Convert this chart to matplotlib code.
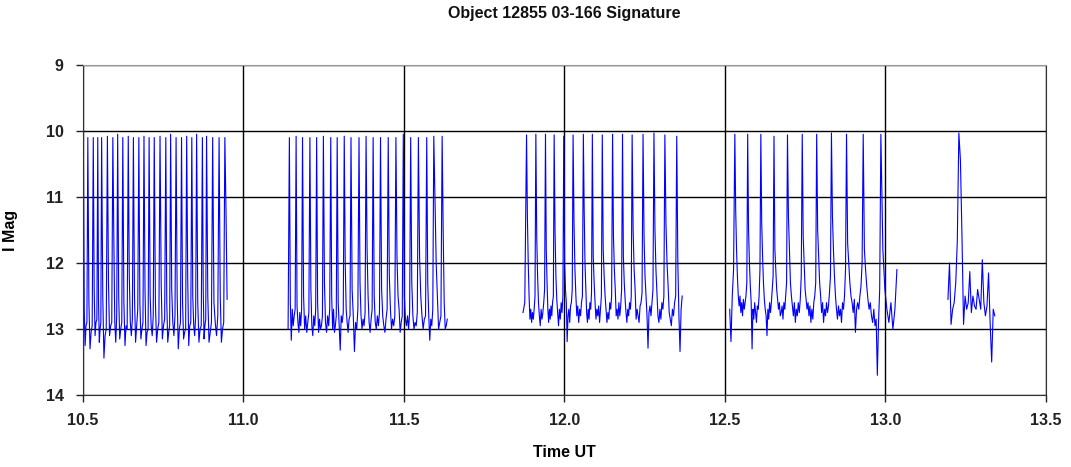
import matplotlib
matplotlib.use("Agg")
import matplotlib.pyplot as plt
import numpy as np

# Flash (peak) times in UT hours and peak magnitudes, one list per observing run
seg_bounds = [(10.491, 10.949), (11.139, 11.635), (11.871, 12.367),
              (12.515, 13.036), (13.195, 13.341)]

peaks_t = [
    [10.501, 10.515, 10.532, 10.546, 10.558, 10.576, 10.593, 10.608, 10.624, 10.641,
     10.657, 10.674, 10.690, 10.706, 10.722, 10.740, 10.758, 10.773, 10.790, 10.807,
     10.823, 10.839, 10.854, 10.872, 10.885, 10.904, 10.924, 10.942],
    [11.143, 11.164, 11.184, 11.207, 11.228, 11.249, 11.272, 11.292, 11.314, 11.335,
     11.360, 11.382, 11.404, 11.427, 11.451, 11.475, 11.498, 11.521, 11.545, 11.571,
     11.593, 11.619],
    [11.882, 11.911, 11.941, 11.968, 11.998, 12.027, 12.059, 12.087, 12.118, 12.150,
     12.181, 12.211, 12.245, 12.279, 12.313, 12.350],
    [12.531, 12.571, 12.612, 12.653, 12.695, 12.741, 12.786, 12.832, 12.879, 12.931,
     12.986],
    [13.229],
]

peaks_mag = [
    [10.1, 10.1, 10.1, 10.1, 10.1, 10.08, 10.1, 10.05, 10.1, 10.08,
     10.1, 10.1, 10.08, 10.1, 10.1, 10.08, 10.1, 10.05, 10.1, 10.1,
     10.08, 10.1, 10.05, 10.1, 10.08, 10.1, 10.1, 10.1],
    [10.1, 10.08, 10.1, 10.1, 10.1, 10.08, 10.1, 10.1, 10.08, 10.1,
     10.1, 10.08, 10.1, 10.1, 10.1, 10.1, 10.05, 10.1, 10.1, 10.1,
     10.08, 10.08],
    [10.06, 10.05, 10.05, 10.06, 10.08, 10.06, 10.05, 10.05, 10.06, 10.05,
     10.05, 10.06, 10.05, 10.03, 10.06, 10.08],
    [10.05, 10.05, 10.05, 10.08, 10.06, 10.05, 10.05, 10.03, 10.05, 10.05,
     10.05],
    [10.03],
]

# Magnitudes read between flashes (before first, between each pair, after last)
lead_mag = [
    [13.32, 12.9],
    [13.0],
    [12.75, 12.6],
    [12.7, 13.19, 12.5, 12.1],
    [12.55, 12.0, 12.93, 12.7, 12.6, 12.3, 11.67],
]

gap_mag = [
    [[12.7, 13.25, 12.95, 12.9], [12.6, 13.3, 13.05, 12.95], [12.4, 13.1, 12.9, 12.85],
     [12.6, 13.2, 13.0, 12.9], [12.5, 13.44, 13.1, 13.0], [12.3, 13.1, 12.95, 12.9],
     [11.6, 12.9, 13.2, 12.8], [12.5, 13.15, 13.0, 12.9], [12.6, 13.25, 12.95, 13.0],
     [12.2, 12.9, 13.1, 12.85], [12.5, 13.2, 12.95, 12.7], [12.6, 13.15, 13.0, 12.9],
     [12.4, 13.25, 13.05, 13.0], [12.5, 12.95, 13.1, 12.8], [12.6, 13.2, 13.0, 12.9],
     [12.3, 13.15, 12.95, 12.85], [12.6, 13.2, 13.05, 12.95], [12.4, 12.9, 13.1, 12.8],
     [12.5, 13.3, 13.0, 12.9], [12.6, 13.15, 13.05, 13.0], [12.2, 13.25, 12.95, 12.9],
     [12.5, 12.95, 13.1, 12.8], [12.6, 13.2, 13.0, 12.95], [12.4, 13.15, 12.95, 12.85],
     [12.5, 13.2, 13.05, 12.9], [12.6, 12.9, 13.1, 12.8], [12.5, 13.2, 13.0, 12.9]],
    [[12.6, 13.17, 12.7, 12.95, 12.8, 12.7], [12.65, 12.9, 13.05, 12.75, 12.95, 12.7],
     [12.5, 13.0, 12.8, 13.05, 12.9, 12.75], [12.4, 12.95, 13.1, 12.8, 12.95, 12.7],
     [12.6, 13.05, 12.85, 13.0, 12.95, 12.8], [12.3, 12.9, 13.05, 12.8, 12.95, 12.7],
     [12.5, 13.0, 12.7, 13.05, 12.95, 12.8], [12.6, 12.95, 13.32, 12.8, 12.9, 12.75],
     [12.0, 12.7, 12.9, 13.05, 12.85, 12.8], [12.4, 12.8, 13.34, 12.9, 13.0, 12.7],
     [12.3, 12.8, 13.0, 12.85, 12.95, 12.75], [11.8, 12.5, 12.9, 13.05, 12.85, 12.7],
     [12.5, 12.9, 13.0, 12.8, 12.95, 12.75], [12.4, 12.8, 12.95, 13.05, 12.85, 12.7],
     [12.2, 12.7, 13.0, 12.85, 12.95, 12.8], [11.9, 12.5, 12.7, 13.05, 12.9, 12.8],
     [12.5, 12.85, 12.95, 12.8, 13.0, 12.75], [12.3, 12.8, 13.0, 12.9, 12.95, 12.75],
     [11.9, 12.5, 12.8, 13.0, 12.85, 12.8], [12.3, 12.8, 13.17, 12.85, 12.95, 12.7],
     [11.0, 12.0, 12.5, 13.0, 12.9, 12.8]],
    [[11.3, 12.0, 12.5, 12.85, 12.7, 12.9, 12.75, 12.85, 12.7, 12.5],
     [11.6, 12.2, 12.6, 12.8, 12.95, 12.7, 12.85, 12.75, 12.6, 12.4],
     [11.8, 12.3, 12.7, 12.9, 12.7, 12.85, 12.65, 12.8, 12.6, 12.5],
     [11.5, 12.2, 12.55, 12.75, 12.95, 12.7, 12.85, 12.6, 12.75, 12.5],
     [12.0, 12.4, 12.6, 13.19, 12.8, 12.7, 12.9, 12.65, 12.6, 12.4],
     [11.4, 12.1, 12.5, 12.8, 12.65, 12.9, 12.7, 12.8, 12.6, 12.5],
     [11.2, 12.0, 12.4, 12.75, 12.9, 12.7, 12.85, 12.6, 12.7, 12.45],
     [11.9, 12.3, 12.6, 12.85, 12.7, 12.8, 12.65, 12.9, 12.7, 12.5],
     [11.8, 12.2, 12.5, 12.7, 12.9, 12.75, 12.85, 12.6, 12.7, 12.5],
     [11.6, 12.1, 12.4, 12.8, 12.7, 12.85, 12.6, 12.8, 12.65, 12.4],
     [11.9, 12.3, 12.55, 12.75, 12.9, 12.7, 12.8, 12.6, 12.7, 12.5],
     [11.5, 12.1, 12.4, 12.85, 12.7, 12.8, 12.9, 12.65, 12.6, 12.45],
     [11.6, 12.2, 12.5, 12.8, 13.29, 12.75, 12.65, 12.8, 12.6, 12.4],
     [11.5, 12.1, 12.45, 12.8, 12.9, 12.7, 12.85, 12.6, 12.7, 12.5],
     [11.4, 12.0, 12.35, 12.75, 12.85, 12.95, 12.7, 12.8, 12.6, 12.5]],
    [[11.2, 11.8, 12.2, 12.5, 12.65, 12.5, 12.75, 12.6, 12.8, 12.55, 12.7, 12.6, 12.5, 12.3],
     [11.5, 12.0, 12.35, 12.6, 13.3, 12.7, 12.85, 12.6, 12.75, 12.9, 12.65, 12.7, 12.5, 12.1],
     [11.4, 11.9, 12.3, 12.55, 12.7, 12.8, 13.1, 12.7, 12.85, 12.6, 12.75, 12.6, 12.4, 12.2],
     [11.8, 12.1, 12.4, 12.55, 12.7, 12.6, 12.8, 12.75, 12.65, 12.85, 12.6, 12.7, 12.5, 12.3],
     [11.3, 11.8, 12.3, 12.5, 12.65, 12.8, 12.6, 12.9, 12.7, 12.8, 12.6, 12.75, 12.55, 12.2],
     [11.6, 12.0, 12.4, 12.55, 12.7, 12.6, 12.8, 12.65, 12.9, 12.7, 12.85, 12.6, 12.5, 12.3],
     [11.5, 11.9, 12.3, 12.5, 12.75, 12.6, 12.9, 12.7, 12.8, 12.6, 12.75, 12.65, 12.45, 12.2],
     [11.3, 11.8, 12.2, 12.5, 12.7, 12.85, 12.65, 12.8, 12.7, 12.9, 12.6, 12.7, 12.5, 12.1],
     [11.7, 12.0, 12.3, 12.5, 12.6, 12.75, 12.55, 13.05, 12.7, 12.6, 12.7, 12.5, 12.35, 12.0],
     [11.8, 12.1, 12.35, 12.55, 12.7, 12.6, 12.8, 12.9, 12.7, 12.95, 12.85, 13.7, 12.9, 12.4]],
    [],
]

trail_mag = [
    [11.2, 12.55],
    [11.5, 12.6, 13.0, 12.95, 12.85],
    [12.0, 12.8, 13.34, 12.7, 12.5],
    [11.8, 12.4, 12.7, 12.9, 12.6, 13.0, 12.7, 12.1],
    [10.44, 11.6, 12.93, 12.5, 12.7, 12.6, 12.13, 12.75, 12.5, 12.65, 12.7, 12.4,
     12.55, 12.7, 11.95, 12.6, 12.8, 12.65, 12.15, 12.9, 13.5, 12.7, 12.8],
]

x_ticks = [10.5, 11.0, 11.5, 12.0, 12.5, 13.0, 13.5]
y_ticks = [9, 10, 11, 12, 13, 14]


def build_segment(k):
    t0, t1 = seg_bounds[k]
    pt, pm = peaks_t[k], peaks_mag[k]
    ts, ms = [], []
    lead = lead_mag[k]
    ts += list(np.linspace(t0, pt[0], len(lead) + 1)[:-1])
    ms += lead
    for i in range(len(pt)):
        ts.append(pt[i])
        ms.append(pm[i])
        if i < len(pt) - 1:
            g = gap_mag[k][i]
            ts += list(np.linspace(pt[i], pt[i + 1], len(g) + 2)[1:-1])
            ms += g
    trail = trail_mag[k]
    ts += list(np.linspace(pt[-1], t1, len(trail) + 1)[1:])
    ms += trail
    return ts, ms


plt.rcParams['font.family'] = ['Liberation Sans', 'DejaVu Sans']
fig = plt.figure(figsize=(10.71, 4.67), dpi=100)
ax = fig.add_axes([0.0775, 0.154, 0.899, 0.707])

for k in range(len(seg_bounds)):
    ts, ms = build_segment(k)
    ax.plot(ts, ms, color='#0000ff', lw=0.8)

ax.set_xlim(10.5, 13.5)
ax.set_ylim(14, 9)
ax.set_xticks(x_ticks)
ax.set_xticklabels([f"{v:.1f}" for v in x_ticks])
ax.set_yticks(y_ticks)
ax.grid(True, color='black', lw=1.0)
ax.set_axisbelow(True)
for s in ax.spines.values():
    s.set_color('#333333')
ax.spines['top'].set_color('#999999')
ax.tick_params(axis='both', direction='out', length=5, width=1, colors='#222222',
               labelsize=11.5)
for lab in ax.get_xticklabels() + ax.get_yticklabels():
    lab.set_fontweight('bold')
ax.tick_params(axis='x', pad=8)
ax.tick_params(axis='y', pad=9)

ax.set_title("Object 12855 03-166 Signature", fontsize=11.5, fontweight='bold',
             pad=34, color='#111111')
ax.set_xlabel("Time UT", fontsize=11.5, fontweight='bold', labelpad=12)
ax.set_ylabel("I Mag", fontsize=11.5, fontweight='bold', labelpad=20)

fig.savefig("out.png", dpi=100)
